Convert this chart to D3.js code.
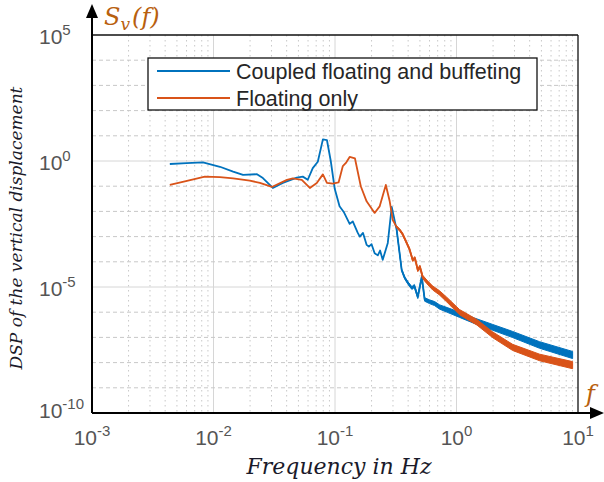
<!DOCTYPE html>
<html><head><meta charset="utf-8">
<script src="https://cdn.jsdelivr.net/npm/d3@7"></script>
<style>body{margin:0;background:#fff}svg{display:block}</style>
</head><body>
<svg id="c" width="604" height="482"></svg>
<script>
// ---- data ----
const seriesNames = ["Coupled floating and buffeting", "Floating only"];
const freqCoupled = [0.00437,0.0060,0.00819,0.0113,0.0145,0.0175,0.0228,0.0255,0.0308,0.0372,0.0485,0.0543,0.0597,0.0656,0.0722,0.0795,0.0858,0.0923,0.0995,0.109,0.118,0.132,0.14,0.154,0.16,0.17,0.182,0.19,0.2,0.212,0.225,0.235,0.247,0.272,0.293,0.322,0.354,0.375,0.40,0.429,0.45,0.48,0.518,0.547,0.6,0.66,0.728,0.85,1.06,1.4,1.99,2.9,4.83,9.03];
const psdCoupled = [0.76,0.83,0.89,0.59,0.38,0.28,0.30,0.21,0.085,0.135,0.22,0.24,0.18,0.52,0.93,7.2,6.8,1.0,0.079,0.016,0.0095,0.0032,0.004,0.0014,0.001,0.0014,4.7e-4,4.0e-4,5.0e-4,2.2e-4,1.8e-4,2.8e-4,1.2e-4,5.6e-4,1.5e-2,1.8e-3,4.7e-5,2.3e-5,1.4e-5,9.1e-6,1.1e-5,4.0e-6,2.5e-5,3.2e-6,2.6e-6,2.2e-6,1.6e-6,1.2e-6,7.9e-7,4.6e-7,2.5e-7,1.3e-7,5.0e-8,2.0e-8];
const freqFloating = [0.00437,0.00593,0.00849,0.0113,0.0145,0.0199,0.0241,0.0302,0.0402,0.045,0.0533,0.0621,0.0708,0.0795,0.0858,0.096,0.107,0.116,0.124,0.132,0.146,0.163,0.182,0.212,0.233,0.262,0.282,0.299,0.32,0.341,0.36,0.389,0.41,0.436,0.455,0.48,0.5,0.527,0.57,0.637,0.72,0.83,1.06,1.47,1.99,2.9,4.83,9.03];
const psdFloating = [0.112,0.158,0.24,0.229,0.204,0.166,0.135,0.0933,0.178,0.204,0.178,0.0851,0.135,0.295,0.135,0.126,0.141,0.631,0.89,1.45,1.26,0.1,0.0251,0.0087,0.0158,0.112,0.0251,0.00457,0.0025,0.00182,0.00126,5.6e-4,3.2e-4,1.17e-4,1.4e-4,4.7e-5,6.3e-5,2.5e-5,1.6e-5,9.1e-6,6.0e-6,3.2e-6,1.0e-6,4.0e-7,1.26e-7,4.0e-8,1.6e-8,7.9e-9];
const xTickExp = ["-3","-2","-1","0","1"];
const yTickExp = ["-10","-5","0","5"];
const xLabel = "Frequency in Hz";
const yLabel = "DSP of  the vertical displacement";

// ---- layout ----
const L = 92, R = 578, T = 35, B = 413;
const svg = d3.select("#c");
const x = d3.scaleLog().domain([1e-3, 1e1]).range([L, R]);
const y = d3.scaleLog().domain([1e-10, 1e5]).range([B, T]);

const blue = "#0072BD", orange = "#D95319";
const g = svg.append("g");

// grid: x minor dotted
const xMinor = [];
for (let e = -3; e < 1; e++) for (let k = 2; k <= 9; k++) xMinor.push(k * Math.pow(10, e));
g.selectAll(".xm").data(xMinor).enter().append("line")
  .attr("x1", d => x(d)).attr("x2", d => x(d)).attr("y1", T).attr("y2", B)
  .attr("stroke", "#c8c8c8").attr("stroke-width", 1).attr("stroke-dasharray", "1.5,3.5");
// x major
const xMajor = xTickExp.map(e => Math.pow(10, +e));
g.selectAll(".xM").data(xMajor.slice(1, -1)).enter().append("line")
  .attr("x1", d => x(d)).attr("x2", d => x(d)).attr("y1", T).attr("y2", B)
  .attr("stroke", "#d6d6d6").attr("stroke-width", 1);
// y decade lines
const yDec = d3.range(-9, 5).map(e => Math.pow(10, e));
const isMajorY = d => yTickExp.some(e => Math.abs(+e - Math.log10(d)) < 1e-6);
g.selectAll(".ym").data(yDec).enter().append("line")
  .attr("x1", L).attr("x2", R).attr("y1", d => y(d)).attr("y2", d => y(d))
  .attr("stroke", d => isMajorY(d) ? "#d6d6d6" : "#c8c8c8")
  .attr("stroke-width", 1)
  .attr("stroke-dasharray", d => isMajorY(d) ? null : "4,3");

// series: thin line, with a noise band that widens at high frequency
const line = d3.line().x(d => x(d[0])).y(d => y(d[1]));
const halfW = d3.scaleLog().domain([0.3, 1, 10]).range([0.9, 2.6, 3.6]).clamp(true);
const band = d3.area().x(d => x(d[0])).y0(d => y(d[1]) - halfW(d[0])).y1(d => y(d[1]) + halfW(d[0]));
function drawSeries(fr, ps, col) {
  const pts = fr.map((f, i) => [f, ps[i]]);
  const p = svg.append("g");
  p.append("path").attr("d", line(pts)).attr("fill", "none").attr("stroke", col)
    .attr("stroke-width", 1.8).attr("stroke-linejoin", "round");
  p.append("path").attr("d", band(pts.filter(d => d[0] >= 0.3))).attr("fill", col)
    .attr("stroke", col).attr("stroke-width", 1).attr("stroke-linejoin", "round");
}
drawSeries(freqCoupled, psdCoupled, blue);
drawSeries(freqFloating, psdFloating, orange);

// box
svg.append("line").attr("x1", L).attr("x2", R).attr("y1", T).attr("y2", T).attr("stroke", "#111").attr("stroke-width", 1.3);
svg.append("line").attr("x1", R).attr("x2", R).attr("y1", T).attr("y2", B).attr("stroke", "#111").attr("stroke-width", 1.3);
// axes with arrows
svg.append("line").attr("x1", L).attr("x2", L).attr("y1", B).attr("y2", 14).attr("stroke", "#000").attr("stroke-width", 2);
svg.append("line").attr("x1", L).attr("x2", 594).attr("y1", B).attr("y2", B).attr("stroke", "#000").attr("stroke-width", 2);
svg.append("path").attr("d", `M${L},4 L${L-6},18 L${L+6},18 Z`).attr("fill", "#000");
svg.append("path").attr("d", `M604,${B} L590,${B-6} L590,${B+6} Z`).attr("fill", "#000");

// tick labels
const tickFont = "'Liberation Sans', Arial, sans-serif";
const tg = svg.append("g").attr("font-family", tickFont).attr("fill", "#555");
xTickExp.forEach(e => {
  const t = tg.append("text").attr("x", x(Math.pow(10, +e))).attr("y", 445).attr("text-anchor", "middle").attr("font-size", 21);
  t.append("tspan").text("10");
  t.append("tspan").attr("dy", -9).attr("font-size", 15).text(e);
});
yTickExp.forEach((e, i) => {
  const t = tg.append("text").attr("x", 39).attr("y", y(Math.pow(10, +e)) + (i === 0 ? 5 : 9)).attr("font-size", 21);
  t.append("tspan").text("10");
  t.append("tspan").attr("dy", -9).attr("font-size", 15).text(e);
});

// axis labels
const serif = "'DejaVu Serif', 'Liberation Serif', serif";
svg.append("text").attr("x", 339).attr("y", 474).attr("text-anchor", "middle")
  .attr("font-family", serif).attr("font-style", "italic").attr("font-size", 22).attr("fill", "#1a1a2a").text(xLabel);
svg.append("text").attr("transform", "translate(22,228) rotate(-90)").attr("text-anchor", "middle")
  .attr("font-family", serif).attr("font-style", "italic").attr("font-size", 17).attr("fill", "#1a1a2a").text(yLabel);
const sv = svg.append("text").attr("x", 104).attr("y", 25).attr("font-family", serif).attr("font-style", "italic")
  .attr("font-size", 24).attr("fill", "#B8600E");
sv.append("tspan").text("S");
sv.append("tspan").attr("dy", 5).attr("font-size", 17).text("v");
sv.append("tspan").attr("dy", -5).attr("dx", 2).text("(f)");
svg.append("text").attr("x", 586).attr("y", 402).attr("font-family", serif).attr("font-style", "italic")
  .attr("font-size", 24).attr("fill", "#B8600E").text("f");

// legend
const lg = svg.append("g");
lg.append("rect").attr("x", 148).attr("y", 58).attr("width", 389).attr("height", 52)
  .attr("fill", "#fff").attr("stroke", "#111").attr("stroke-width", 1.3);
[blue, orange].forEach((c, i) => {
  const yy = 71 + i * 27;
  lg.append("line").attr("x1", 157).attr("x2", 230).attr("y1", yy).attr("y2", yy).attr("stroke", c).attr("stroke-width", 1.8);
  lg.append("text").attr("x", 236).attr("y", yy + 7.5).attr("font-family", tickFont).attr("font-size", 21.5)
    .attr("fill", "#262626").text(seriesNames[i]);
});
</script>
</body></html>
